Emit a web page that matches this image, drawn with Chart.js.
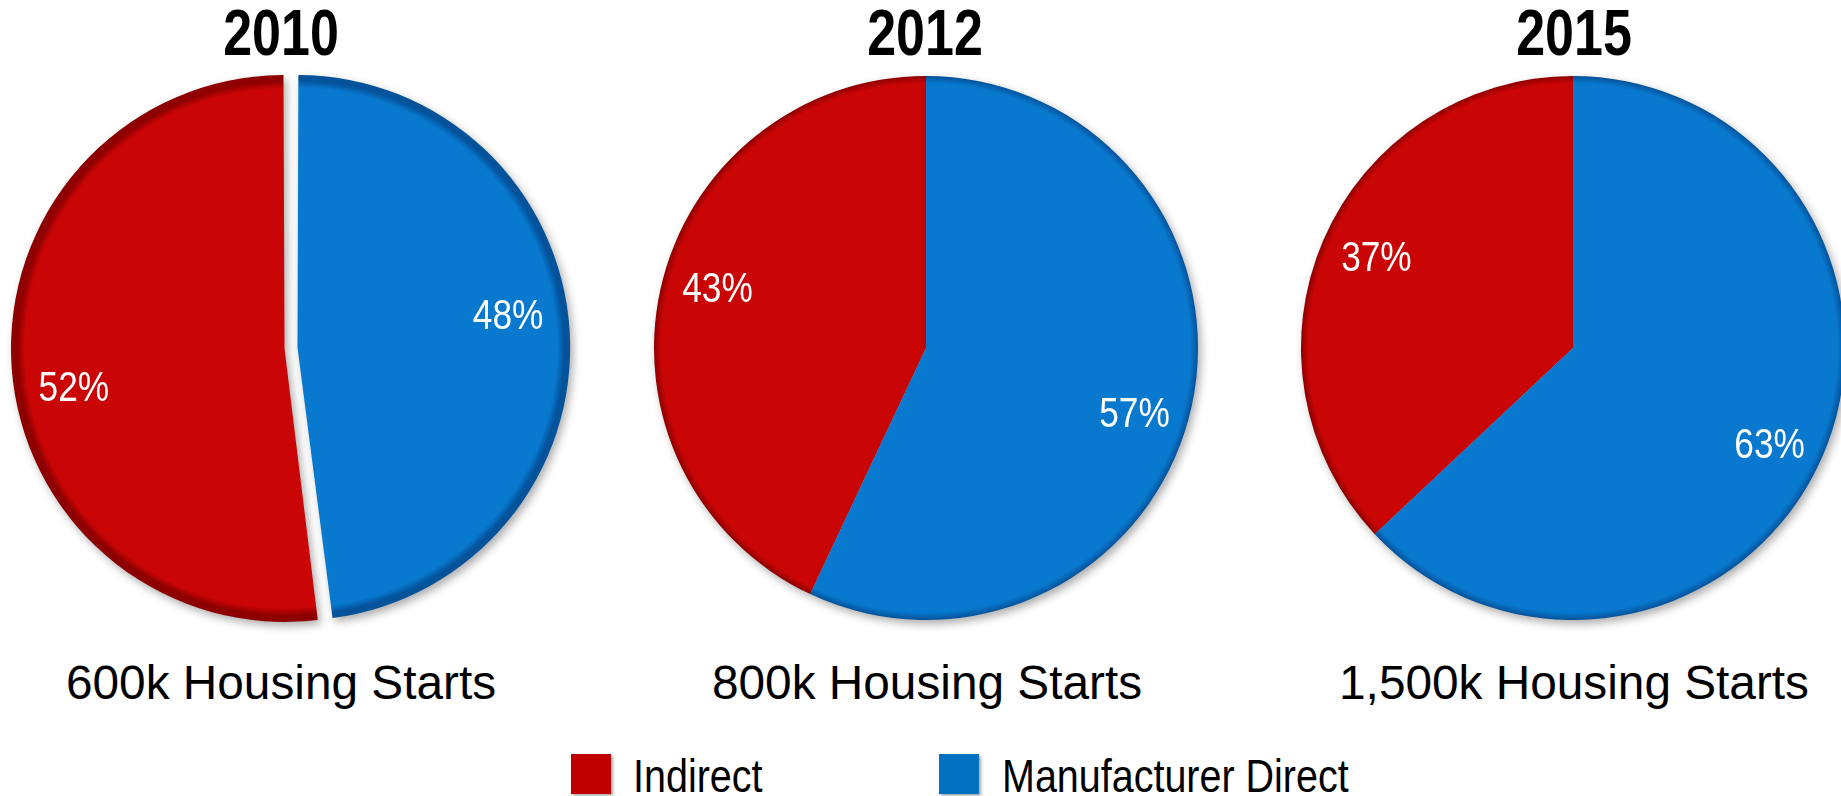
<!DOCTYPE html>
<html><head><meta charset="utf-8">
<script src="https://cdn.jsdelivr.net/npm/chart.js@4.4.1/dist/chart.umd.min.js"></script>
<style>
html,body{margin:0;padding:0;background:#fff;width:1841px;height:796px;overflow:hidden;position:relative;font-family:'Liberation Sans',Arial,Helvetica,sans-serif;}
canvas{position:absolute;}
.t{position:absolute;white-space:nowrap;line-height:1;color:#000;}
.title{font-weight:bold;font-size:65px;top:0px;transform:translateX(-50%) scaleX(0.8);}
.sub{font-size:48px;top:659px;transform:translateX(-50%) scaleX(0.995);}
.leg{font-size:47px;top:752px;transform-origin:0 0;transform:scaleX(0.84);}
.sw{position:absolute;width:40px;height:40px;box-shadow:2px 2px 3px rgba(0,0,0,0.35);}
</style></head><body>
<script>
// ---- data ----
const categories = ['Indirect', 'Manufacturer Direct'];
const years = ['2010', '2012', '2015'];
const startsLabels = ['600k Housing Starts', '800k Housing Starts', '1,500k Housing Starts'];
const indirectShare = [52, 43, 37];
const directShare = [48, 57, 63];

// ---- styles / layout ----
const sliceColors = ['#CA0505', '#0879CF'];
const rimColors = ['#8E0000', '#04529A'];
const legendColors = ['#C00000', '#0070C0'];
const pieCenters = [[291, 348], [926, 348], [1573, 348]];
const pieRadius = [267, 272, 272];
const pieOffset = [26, 0, 0];
const labelAngleShift = [-6, 4, 2];
const titleX = [281, 925, 1573.5];
const subX = [281, 927, 1574];
const legendSwatchX = [571, 939];
const legendTextX = [633, 1002];
const CANVAS = 600;

const body = document.body;
function addText(cls, txt, x) {
  const d = document.createElement('div');
  d.className = 't ' + cls;
  d.textContent = txt;
  d.style.left = x + 'px';
  body.appendChild(d);
}

const shadowAndLabels = {
  id: 'shadowAndLabels',
  beforeDatasetsDraw(chart) {
    const ctx = chart.ctx;
    ctx.save();
    ctx.shadowColor = 'rgba(0,0,0,0.32)';
    ctx.shadowBlur = 8;
    ctx.shadowOffsetX = 3;
    ctx.shadowOffsetY = 4;
  },
  afterDatasetsDraw(chart, args, opts) {
    const ctx = chart.ctx;
    ctx.restore();
    const meta = chart.getDatasetMeta(0);
    const ds = chart.data.datasets[0];
    const shift = (opts.angleShift || 0) * Math.PI / 180;
    meta.data.forEach((arc, i) => {
      const p = arc.getProps(['x', 'y', 'startAngle', 'endAngle', 'outerRadius']);
      const mid = (p.startAngle + p.endAngle) / 2;
      const off = (arc.options.offset || 0) / 4;
      const r = p.outerRadius * 0.8;
      const lx = p.x + Math.cos(mid) * off + Math.cos(mid + shift) * r;
      const ly = p.y + Math.sin(mid) * off + Math.sin(mid + shift) * r;
      ctx.save();
      ctx.translate(lx, ly);
      ctx.scale(0.84, 1);
      ctx.fillStyle = '#ffffff';
      ctx.font = "42px 'Liberation Sans', Arial, sans-serif";
      ctx.textAlign = 'center';
      ctx.textBaseline = 'middle';
      ctx.fillText(ds.data[i] + '%', 0, 5);
      ctx.restore();
    });
  }
};

years.forEach((yr, k) => {
  const cv = document.createElement('canvas');
  cv.width = CANVAS; cv.height = CANVAS;
  cv.style.width = CANVAS + 'px'; cv.style.height = CANVAS + 'px';
  cv.style.left = (pieCenters[k][0] - CANVAS / 2) + 'px';
  cv.style.top = (pieCenters[k][1] - CANVAS / 2) + 'px';
  body.appendChild(cv);
  const R = pieRadius[k];
  new Chart(cv, {
    type: 'pie',
    data: {
      labels: categories,
      datasets: [{
        data: [indirectShare[k], directShare[k]],
        backgroundColor: (c) => {
          const idx = c.dataIndex === undefined ? 0 : c.dataIndex;
          const base = sliceColors[idx];
          const ca = c.chart.chartArea;
          if (!ca) return base;
          const cx = (ca.left + ca.right) / 2, cy = (ca.top + ca.bottom) / 2;
          const g = c.chart.ctx.createRadialGradient(cx, cy, 0, cx, cy, R);
          g.addColorStop(0, base);
          g.addColorStop(0.972, base);
          g.addColorStop(1, rimColors[idx]);
          return g;
        },
        borderWidth: 0,
        offset: pieOffset[k]
      }]
    },
    options: {
      responsive: false,
      animation: false,
      radius: R,
      rotation: -indirectShare[k] * 3.6,
      layout: { padding: 0 },
      plugins: {
        legend: { display: false }, tooltip: { enabled: false }, title: { display: false },
        shadowAndLabels: { angleShift: labelAngleShift[k] }
      },
      events: []
    },
    plugins: [shadowAndLabels]
  });
  addText('title', yr, titleX[k]);
  addText('sub', startsLabels[k], subX[k]);
});

categories.forEach((name, i) => {
  const s = document.createElement('div');
  s.className = 'sw';
  s.style.left = legendSwatchX[i] + 'px';
  s.style.top = '754px';
  s.style.background = legendColors[i];
  body.appendChild(s);
  const d = document.createElement('div');
  d.className = 't leg';
  d.textContent = name;
  d.style.left = legendTextX[i] + 'px';
  body.appendChild(d);
});
</script>
</body></html>
